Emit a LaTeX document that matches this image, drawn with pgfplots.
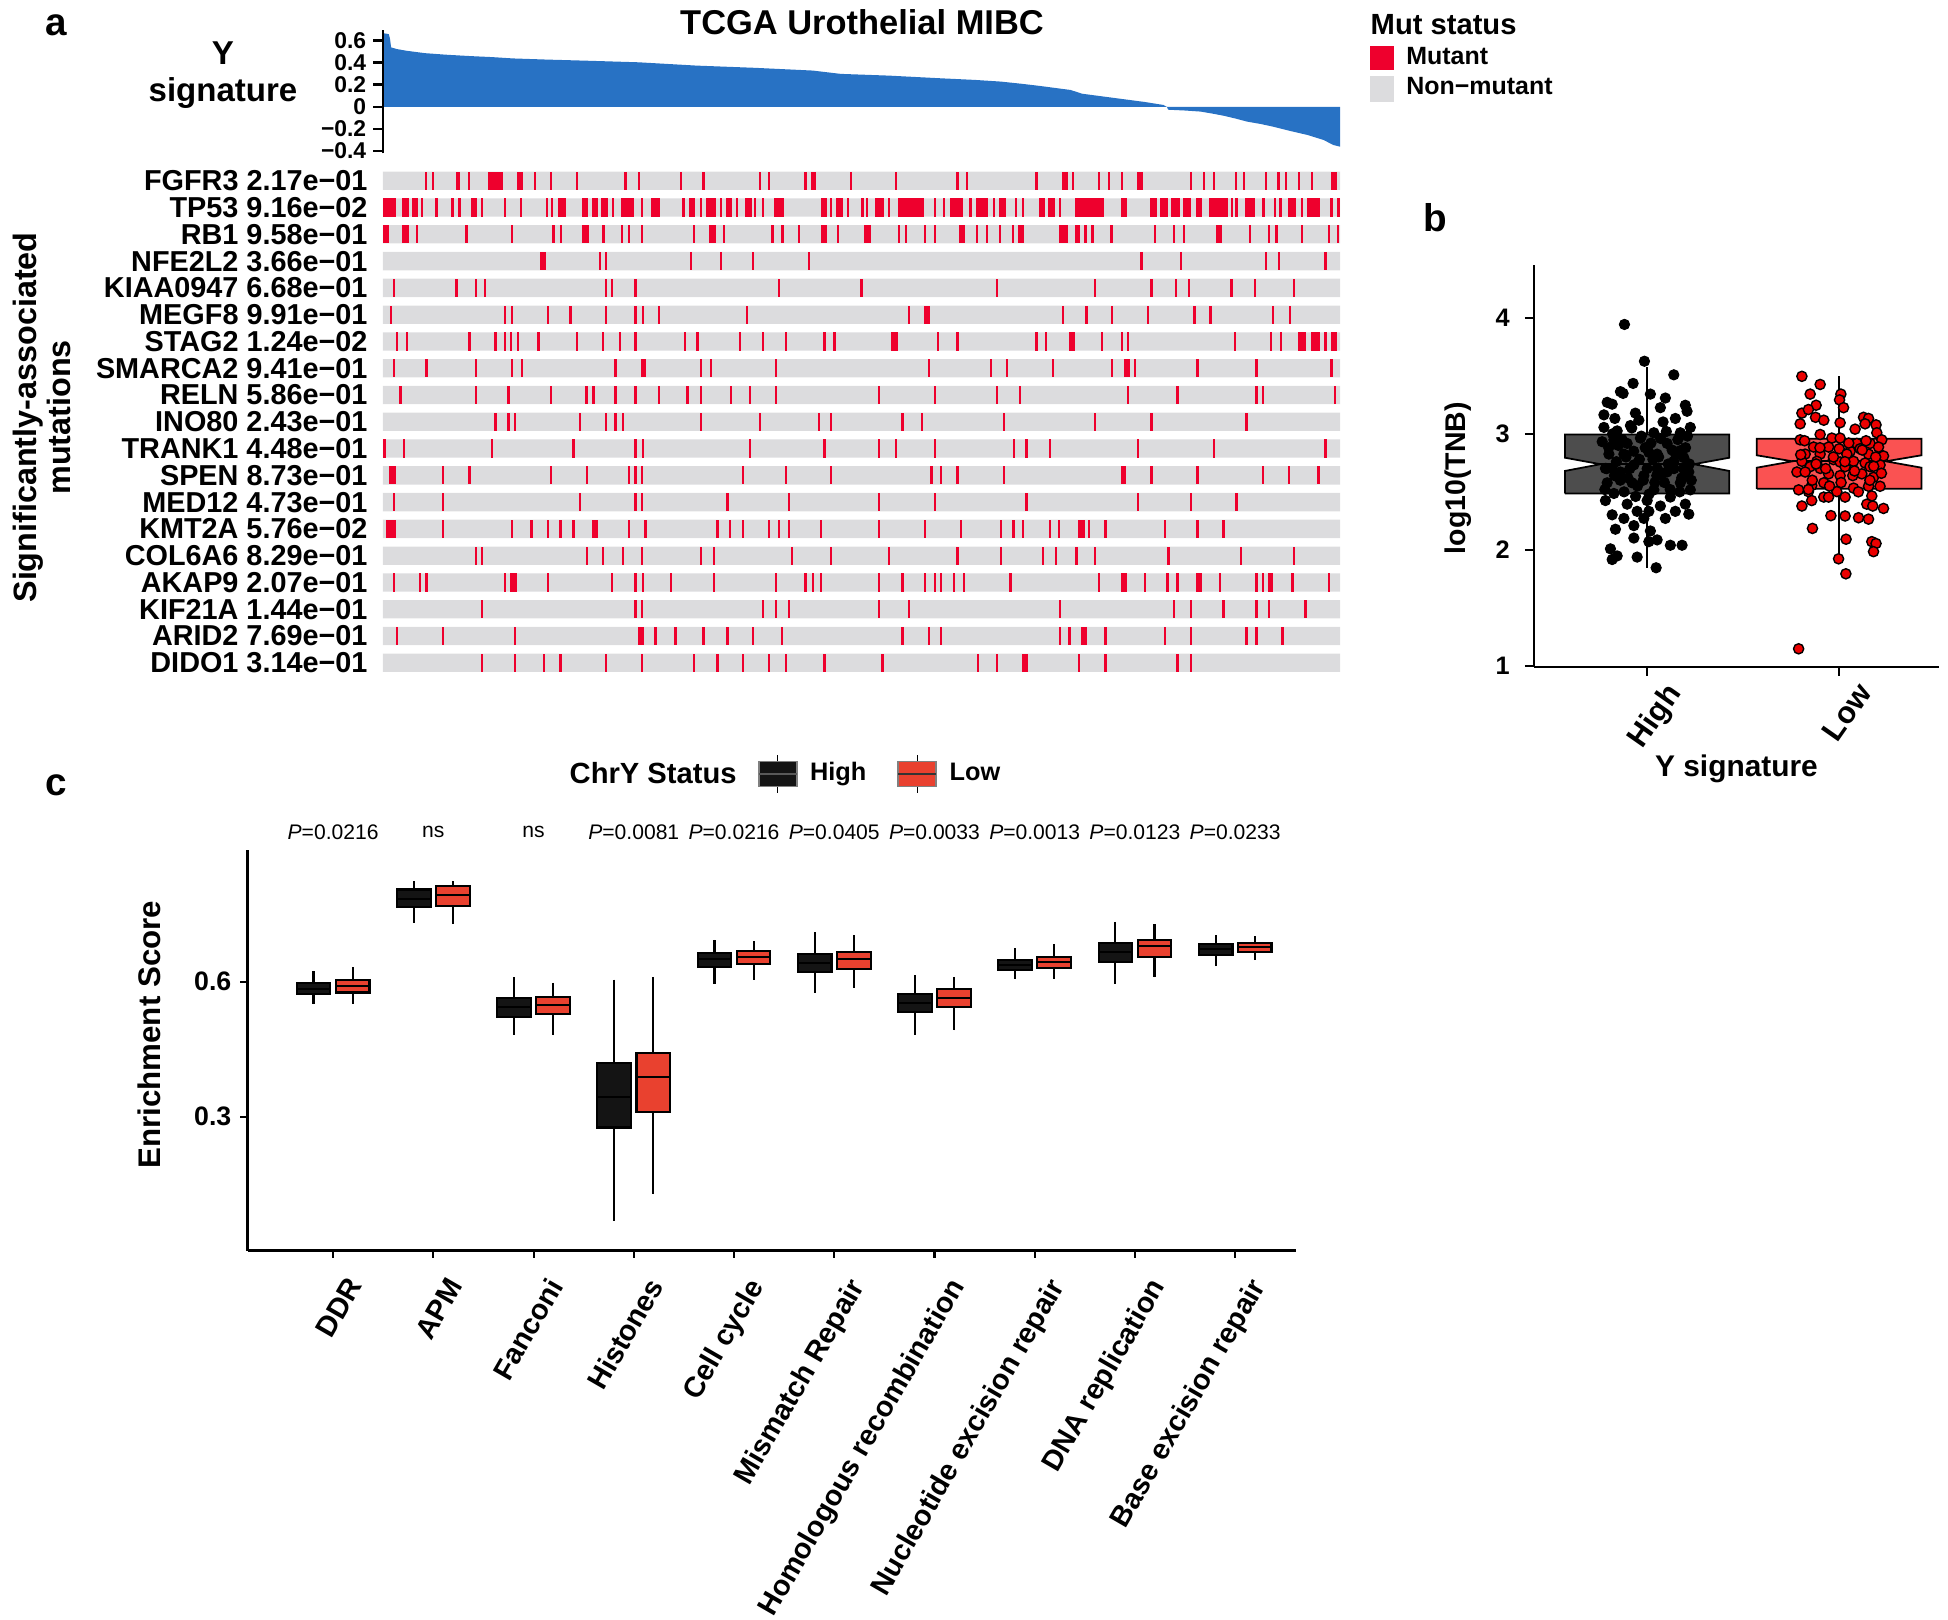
\documentclass[border=0pt]{standalone}
\usepackage{fontspec}
\setmainfont{Liberation Sans}
\usepackage{pgfplots}
\usepackage{pgfplotstable}
\usepgfplotslibrary{statistics}
\pgfplotsset{compat=1.18}

\definecolor{wfblue}{RGB}{40,114,196}
\definecolor{mutred}{RGB}{238,0,45}
\definecolor{rowgrey}{RGB}{220,220,222}
\definecolor{hibox}{RGB}{77,77,77}
\definecolor{lobox}{RGB}{250,82,82}
\definecolor{ptred}{RGB}{235,0,0}
\definecolor{cblack}{RGB}{20,20,20}
\definecolor{cred}{RGB}{233,65,47}

\newcommand{\fs}[1]{\fontsize{#1}{#1}\selectfont}

% mutation calls: centre (sample index), row (1 = FGFR3 ... 19 = DIDO1), half width
\pgfplotstableread{
x y e
18.4 1 0.5
21.6 1 0.5
32.3 1 1.0
37.0 1 0.5
48.4 1 3.4
58.9 1 1.2
65.3 1 0.5
72.3 1 0.5
83.4 1 0.5
104.4 1 0.5
110.1 1 0.5
128.4 1 0.5
138.0 1 0.5
162.3 1 0.5
166.3 1 0.5
181.9 1 0.5
185.3 1 1.2
201.6 1 0.5
220.8 1 0.5
247.3 1 0.5
251.5 1 0.5
281.4 1 0.5
293.6 1 1.4
297.1 1 0.5
308.2 1 0.5
312.5 1 0.5
318.2 1 0.5
326.0 1 1.2
347.8 1 0.5
353.4 1 0.5
357.7 1 0.5
367.2 1 0.5
370.6 1 0.5
380.2 1 0.5
385.5 1 0.5
388.7 1 0.5
394.4 1 0.5
400.0 1 0.5
409.4 1 1.4
2.9 2 2.7
9.7 2 1.4
13.9 2 1.3
16.9 2 0.5
23.0 2 0.5
29.9 2 0.5
33.0 2 0.5
39.1 2 1.2
42.6 2 0.5
52.6 2 0.5
59.4 2 0.5
70.6 2 0.5
72.7 2 0.5
77.1 2 1.6
87.1 2 1.3
91.3 2 1.4
95.4 2 1.4
99.0 2 0.5
105.4 2 2.8
111.6 2 0.5
117.3 2 2.1
129.4 2 0.5
133.0 2 1.4
136.9 2 0.5
141.1 2 2.1
145.4 2 0.5
148.9 2 1.3
152.3 2 0.5
157.3 2 1.4
160.1 2 0.5
163.7 2 0.5
170.6 2 2.1
189.9 2 1.4
193.0 2 0.5
196.6 2 1.4
200.1 2 0.5
206.4 2 0.5
208.4 2 0.5
213.6 2 1.9
217.9 2 0.5
227.2 2 5.5
237.6 2 0.5
241.6 2 0.5
246.8 2 2.7
252.9 2 0.5
257.8 2 2.6
263.0 2 0.5
266.6 2 1.4
272.5 2 0.5
275.6 2 0.5
283.6 2 1.3
287.8 2 1.4
291.4 2 0.5
304.0 2 6.2
318.8 2 1.3
331.6 2 1.4
336.2 2 1.8
341.2 2 1.8
346.2 2 1.8
351.4 2 1.2
359.7 2 4.1
365.6 2 0.5
367.5 2 0.5
373.2 2 2.1
379.0 2 0.5
384.0 2 0.5
386.4 2 0.5
391.3 2 1.9
395.5 2 0.5
400.6 2 2.6
408.3 2 0.5
411.3 2 0.5
1.4 3 1.3
9.7 3 1.4
14.7 3 0.5
35.9 3 0.5
55.6 3 0.5
73.4 3 0.5
76.6 3 0.5
87.1 3 1.4
94.9 3 0.5
103.0 3 0.5
105.9 3 0.5
111.6 3 0.5
134.0 3 0.5
141.9 3 1.4
146.9 3 0.5
167.7 3 0.5
172.0 3 0.5
179.1 3 0.5
189.9 3 1.4
195.9 3 0.5
208.5 3 1.5
222.2 3 0.5
225.1 3 0.5
233.2 3 0.5
237.6 3 0.5
249.4 3 1.3
255.8 3 0.5
260.0 3 0.5
265.7 3 0.5
271.2 3 0.5
274.6 3 1.4
292.9 3 2.0
299.0 3 1.2
302.4 3 0.5
305.4 3 0.5
313.6 3 0.5
332.3 3 0.5
340.6 3 0.5
344.9 3 0.5
359.8 3 1.4
373.2 3 0.5
381.5 3 0.5
384.7 3 0.5
395.7 3 0.5
407.2 3 0.5
411.0 3 0.5
68.9 4 1.3
93.3 4 0.5
96.1 4 0.5
132.6 4 0.5
145.4 4 0.5
159.4 4 0.5
183.3 4 0.5
326.6 4 0.5
343.5 4 0.5
380.0 4 0.5
385.7 4 0.5
405.7 4 0.5
4.7 5 0.5
31.6 5 0.5
39.9 5 0.5
44.0 5 0.5
95.9 5 0.5
98.7 5 0.5
108.7 5 0.5
170.6 5 0.5
206.0 5 0.5
264.3 5 0.5
306.4 5 0.5
330.9 5 0.5
341.4 5 0.5
347.0 5 0.5
365.3 5 0.5
375.3 5 0.5
392.2 5 0.5
3.4 6 0.5
52.6 6 0.5
55.6 6 0.5
70.9 6 0.5
80.7 6 0.5
96.1 6 0.5
108.7 6 0.5
111.9 6 0.5
118.7 6 0.5
156.6 6 0.5
226.5 6 0.5
234.3 6 1.4
292.8 6 0.5
302.9 6 0.5
313.9 6 0.5
329.4 6 0.5
349.3 6 0.5
356.3 6 0.5
383.2 6 0.5
390.4 6 0.5
6.1 7 0.5
10.4 7 0.5
37.3 7 0.5
48.4 7 0.5
52.6 7 0.5
55.1 7 0.5
58.0 7 0.5
66.9 7 0.5
83.4 7 0.5
94.7 7 0.5
101.9 7 0.5
108.7 7 0.5
129.9 7 0.5
135.4 7 0.5
153.7 7 0.5
163.7 7 0.5
173.4 7 0.5
190.1 7 0.5
194.4 7 0.5
220.2 7 1.3
239.0 7 0.5
247.3 7 0.5
281.4 7 0.5
285.4 7 0.5
296.6 7 1.3
309.6 7 0.5
318.0 7 0.5
320.8 7 0.5
366.7 7 0.5
382.2 7 0.5
386.5 7 0.5
395.7 7 1.8
401.4 7 1.8
405.7 7 0.5
409.5 7 1.2
4.7 8 0.5
18.7 8 0.5
39.9 8 0.5
55.4 8 0.5
59.7 8 0.5
100.1 8 0.5
112.3 8 1.1
136.9 8 0.5
141.1 8 0.5
169.1 8 0.5
235.0 8 0.5
261.7 8 0.5
268.7 8 0.5
288.5 8 0.5
313.9 8 0.5
320.2 8 1.2
323.7 8 0.5
350.6 8 0.5
376.0 8 0.5
408.3 8 0.5
7.6 9 0.5
39.9 9 0.5
54.0 9 0.5
72.3 9 0.5
87.6 9 0.5
90.6 9 0.5
100.1 9 0.5
108.7 9 0.5
118.7 9 0.5
131.1 9 0.5
136.9 9 0.5
149.7 9 0.5
158.0 9 0.5
169.1 9 0.5
213.5 9 0.5
237.6 9 0.5
264.3 9 0.5
274.2 9 0.5
320.8 9 0.5
342.1 9 0.5
376.0 9 0.5
378.9 9 0.5
409.8 9 0.5
48.4 10 0.5
54.0 10 0.5
56.9 10 0.5
84.9 10 0.5
96.1 10 0.5
100.1 10 0.5
103.3 10 0.5
136.9 10 0.5
162.3 10 0.5
187.6 10 0.5
193.0 10 0.5
223.7 10 0.5
232.1 10 0.5
267.3 10 0.5
306.4 10 0.5
330.9 10 0.5
371.7 10 0.5
0.6 11 0.5
9.0 11 0.5
47.0 11 0.5
82.0 11 0.5
108.7 11 0.5
111.9 11 0.5
158.0 11 0.5
190.1 11 0.5
213.5 11 0.5
220.8 11 0.5
237.6 11 0.5
271.6 11 0.5
277.1 11 0.5
287.1 11 0.5
325.1 11 0.5
357.7 11 0.5
405.7 11 0.5
4.0 12 1.4
25.9 12 0.5
37.3 12 0.5
72.3 12 0.5
87.7 12 0.5
105.9 12 0.5
108.7 12 0.5
111.6 12 0.5
155.1 12 0.5
173.4 12 0.5
193.0 12 0.5
236.1 12 0.5
240.3 12 0.5
247.3 12 0.5
267.3 12 0.5
318.8 12 1.2
330.9 12 0.5
350.6 12 0.5
378.9 12 0.5
390.1 12 0.5
402.7 12 0.5
4.7 13 0.5
25.9 13 0.5
84.9 13 0.5
108.7 13 0.5
111.6 13 0.5
148.3 13 0.5
174.7 13 0.5
213.5 13 0.5
237.6 13 0.5
277.1 13 0.5
325.1 13 0.5
347.8 13 0.5
367.5 13 0.5
3.3 14 2.1
25.9 14 0.5
55.4 14 0.5
63.9 14 0.5
70.9 14 0.5
76.4 14 0.5
82.0 14 0.5
91.3 14 1.4
105.9 14 0.5
113.0 14 0.5
144.0 14 0.5
149.4 14 0.5
155.1 14 0.5
166.3 14 0.5
170.6 14 0.5
174.7 14 0.5
188.7 14 0.5
213.5 14 0.5
233.3 14 0.5
248.8 14 0.5
266.0 14 0.5
271.5 14 0.5
275.6 14 0.5
287.1 14 0.5
291.1 14 0.5
300.7 14 1.4
304.0 14 0.5
311.1 14 0.5
336.6 14 0.5
350.6 14 0.5
361.8 14 0.5
39.9 15 0.5
42.7 15 0.5
87.7 15 0.5
94.7 15 0.5
103.3 15 0.5
111.6 15 0.5
136.9 15 0.5
142.6 15 0.5
176.1 15 0.5
193.0 15 0.5
217.9 15 0.5
247.3 15 0.5
266.0 15 0.5
284.2 15 0.5
289.7 15 0.5
298.6 15 0.5
306.4 15 0.5
338.2 15 0.5
369.4 15 0.5
392.2 15 0.5
4.7 16 0.5
15.9 16 0.5
18.7 16 0.5
52.6 16 0.5
56.1 16 1.4
70.9 16 0.5
98.7 16 0.5
108.7 16 0.5
111.9 16 0.5
124.1 16 0.5
142.6 16 0.5
169.1 16 0.5
181.9 16 0.5
185.1 16 0.5
188.7 16 0.5
213.5 16 0.5
223.7 16 0.5
233.3 16 0.5
237.6 16 0.5
240.3 16 0.5
245.9 16 0.5
250.2 16 0.5
270.2 16 0.5
308.3 16 0.5
318.8 16 1.3
328.0 16 0.5
337.8 16 0.5
342.1 16 0.5
351.4 16 1.2
360.4 16 0.5
376.0 16 0.5
378.9 16 0.5
382.1 16 1.2
391.6 16 0.5
407.3 16 0.5
42.7 17 0.5
108.7 17 0.5
111.6 17 0.5
163.7 17 0.5
169.1 17 0.5
174.7 17 0.5
213.5 17 0.5
226.5 17 0.5
291.4 17 0.5
340.6 17 0.5
347.8 17 0.5
361.8 17 0.5
376.0 17 0.5
381.5 17 0.5
397.2 17 0.5
6.1 18 0.5
25.9 18 0.5
56.9 18 0.5
111.0 18 1.2
117.3 18 0.5
125.9 18 0.5
138.0 18 0.5
148.3 18 0.5
159.4 18 0.5
171.9 18 0.5
223.7 18 0.5
235.0 18 0.5
240.3 18 0.5
291.4 18 0.5
295.6 18 0.5
301.9 18 1.3
311.1 18 0.5
336.6 18 0.5
347.8 18 0.5
371.7 18 0.5
376.0 18 0.5
387.2 18 0.5
42.7 19 0.5
56.9 19 0.5
69.4 19 0.5
76.4 19 0.5
96.1 19 0.5
111.6 19 0.5
134.0 19 0.5
144.0 19 0.5
155.1 19 0.5
166.3 19 0.5
173.4 19 0.5
190.1 19 0.5
215.0 19 0.5
256.2 19 0.5
264.3 19 0.5
276.5 19 1.2
299.7 19 0.5
311.1 19 0.5
342.1 19 0.5
347.8 19 0.5
}\mutations

\begin{document}
\begin{tikzpicture}
\useasboundingbox (0,0) rectangle (19.48,16.2);

% ---------- panel a: Y signature waterfall ----------
\begin{axis}[
  at={(3.83cm,14.667cm)}, anchor=south west,
  width=9.57cm, height=1.235cm, scale only axis,
  xmin=0, xmax=412, ymin=-0.42, ymax=0.70,
  axis x line=none, axis y line=left, axis on top,
  axis line style={-, line width=0.8pt},
  tick align=outside, major tick length=2.8pt,
  tick style={line width=0.8pt, black},
  ytick={-0.4,-0.2,0,0.2,0.4,0.6},
  yticklabels={−0.4,−0.2,0,0.2,0.4,0.6},
  yticklabel style={font=\bfseries\fs{6.5}, inner sep=0pt, xshift=-1.8pt},
  clip=false,
  legend style={at={(axis description cs:1.0303,0.877)}, anchor=north west,
    draw=none, fill=none, inner sep=0pt, font=\bfseries\fs{7.1},
    nodes={inner sep=0.3pt}, row sep=1.6pt, legend cell align=left,
    /tikz/every odd column/.append style={column sep=3.1pt}},
]
\addplot[fill=wfblue, draw=none, forget plot] table {
x y
0 0
0 0.67
2.5 0.66
3.0 0.62
3.5 0.54
6 0.525
10 0.51
18 0.488
27 0.474
37 0.462
47 0.452
56 0.44
70 0.43
90 0.418
110 0.405
135 0.375
160 0.355
185 0.33
197 0.30
218 0.284
240 0.26
255 0.245
266 0.23
275 0.21
283 0.19
296 0.154
301 0.12
310 0.095
319 0.07
328 0.045
336 0.018
337.5 0
338 -0.025
345 -0.032
352 -0.042
357 -0.06
362 -0.08
367 -0.105
372 -0.133
378 -0.155
383 -0.178
390 -0.215
398 -0.254
405 -0.30
409 -0.344
412 -0.36
412 0
};
\addlegendimage{legend image code/.code={\fill[mutred] (0cm,-0.117cm) rectangle (0.233cm,0.117cm);}}
\addlegendentry{Mutant}
\addlegendimage{legend image code/.code={\fill[rowgrey] (0cm,-0.122cm) rectangle (0.233cm,0.122cm);}}
\addlegendentry{Non−mutant}
\end{axis}

% ---------- panel a: mutation matrix ----------
\begin{axis}[
  at={(3.83cm,9.438cm)}, anchor=south west,
  width=9.57cm, height=5.088cm, scale only axis,
  xmin=0, xmax=412, ymin=0.5, ymax=19.5, y dir=reverse,
  axis line style={draw=none}, xtick=\empty,
  ytick={1,...,19}, major tick length=0pt,
  yticklabels={FGFR3 2.17e−01, TP53 9.16e−02, RB1 9.58e−01, NFE2L2 3.66e−01,
    KIAA0947 6.68e−01, MEGF8 9.91e−01, STAG2 1.24e−02, SMARCA2 9.41e−01,
    RELN 5.86e−01, INO80 2.43e−01, TRANK1 4.48e−01, SPEN 8.73e−01,
    MED12 4.73e−01, KMT2A 5.76e−02, COL6A6 8.29e−01, AKAP9 2.07e−01,
    KIF21A 1.44e−01, ARID2 7.69e−01, DIDO1 3.14e−01},
  yticklabel style={font=\bfseries\fs{8.2}, inner sep=0pt, anchor=east, xshift=-4.2pt},
  clip=false,
]
\addplot[xbar, bar width=0.684, fill=rowgrey, draw=none] coordinates {
(412,1) (412,2) (412,3) (412,4) (412,5) (412,6) (412,7) (412,8) (412,9) (412,10)
(412,11) (412,12) (412,13) (412,14) (412,15) (412,16) (412,17) (412,18) (412,19)};
\addplot[draw=none, mark=none,
  error bars/.cd, x dir=both, x explicit, error mark=none,
  error bar style={draw=mutred, line width=5.2pt}]
  table[x=x, y=y, x error=e] {\mutations};
\end{axis}

% ---------- panel b ----------
\begin{axis}[
  at={(15.34cm,9.533cm)}, anchor=south west,
  width=4.05cm, height=4.012cm, scale only axis,
  xmin=0.411, xmax=2.52, ymin=0.994, ymax=4.45,
  axis x line*=bottom, axis y line*=left,
  axis line style={-, line width=0.6pt},
  tick align=outside, major tick length=2.6pt,
  tick style={line width=0.6pt, black},
  xtick={1,2}, xticklabels={High,Low},
  xticklabel style={rotate=55, anchor=north east, font=\bfseries\fs{8.7}, inner sep=0pt, xshift=1.7pt, yshift=-4.5pt},
  ytick={1,2,3,4}, yticklabels={1,2,3,4},
  yticklabel style={font=\bfseries\fs{7.2}, inner sep=0pt, xshift=-4.1pt},
  xlabel={Y signature}, ylabel={log10(TNB)},
  xlabel style={font=\bfseries\fs{8.5}, at={(axis description cs:0.5,-0.254)}, anchor=center},
  ylabel style={font=\bfseries\fs{8.1}, at={(axis description cs:-0.188,0.47)}, anchor=center},
  clip=false,
]
% High: whiskers, notched box, median
\addplot[black, line width=0.6pt] coordinates {(1,2.994) (1,3.578)};
\addplot[black, line width=0.6pt] coordinates {(1,2.486) (1,1.846)};
\addplot[fill=hibox, draw=black, line width=0.5pt] coordinates {
(0.572,2.486) (0.572,2.680) (0.757,2.738) (0.572,2.794) (0.572,2.994)
(1.428,2.994) (1.428,2.794) (1.243,2.738) (1.428,2.680) (1.428,2.486) (0.572,2.486)};
\addplot[black, line width=0.6pt] coordinates {(0.757,2.738) (1.243,2.738)};
% Low
\addplot[black, line width=0.6pt] coordinates {(2,2.957) (2,3.495)};
\addplot[black, line width=0.6pt] coordinates {(2,2.526) (2,1.95)};
\addplot[fill=lobox, draw=black, line width=0.5pt] coordinates {
(1.571,2.526) (1.571,2.708) (1.757,2.763) (1.571,2.815) (1.571,2.957)
(2.429,2.957) (2.429,2.815) (2.243,2.763) (2.429,2.708) (2.429,2.526) (1.571,2.526)};
\addplot[black, line width=0.6pt] coordinates {(1.757,2.763) (2.243,2.763)};
% jittered samples
\addplot[only marks, mark=*, mark size=1.45pt, mark options={fill=black, draw=black, line width=0.3pt}] table {
x y
0.882 3.942
0.986 3.625
1.139 3.508
0.927 3.434
0.861 3.363
0.875 3.348
1.017 3.342
1.095 3.308
0.792 3.271
0.818 3.255
1.199 3.246
0.775 3.163
0.832 3.132
0.939 3.178
1.069 3.225
1.208 3.194
1.147 3.132
1.083 3.102
0.775 3.055
1.225 3.055
0.844 3.025
0.913 3.071
0.957 3.117
1.035 3.009
1.173 3.009
0.766 2.932
0.801 2.825
0.783 2.702
0.792 2.578
0.879 2.825
1.009 2.840
1.104 2.917
1.191 2.794
1.217 2.671
1.173 2.578
0.783 2.425
0.827 2.486
1.225 2.517
1.199 2.394
1.217 2.308
0.818 2.302
0.835 2.178
0.931 2.209
0.931 2.102
1.017 2.163
1.009 2.071
1.052 2.086
1.121 2.040
1.182 2.040
0.809 2.009
0.844 1.948
0.818 1.917
0.948 1.938
1.047 1.846
1.069 2.378
0.948 2.332
1.000 2.425
1.121 2.455
0.896 2.394
1.035 2.517
0.922 2.578
0.983 2.640
1.104 2.671
0.861 2.671
0.896 2.917
0.965 2.963
1.052 2.825
1.139 2.763
0.931 2.732
1.052 2.702
1.173 2.855
0.827 2.948
0.818 2.702
1.147 2.332
1.095 2.271
0.983 2.271
0.879 2.271
1.009 2.332
0.80 2.88
0.84 2.76
0.87 2.95
0.90 2.62
0.93 2.85
0.95 2.55
0.97 2.98
1.00 2.70
1.02 2.92
1.04 2.58
1.06 2.80
1.08 2.66
1.10 3.02
1.12 2.52
1.14 2.70
1.16 2.95
1.18 2.62
1.20 2.88
1.22 2.74
0.78 2.52
0.82 3.00
0.86 2.60
0.89 2.80
0.92 3.05
0.94 2.46
0.98 2.60
1.01 2.48
1.03 2.78
1.07 2.96
1.09 2.58
1.13 2.86
1.17 2.50
1.19 2.70
1.21 2.98
0.79 2.70
0.85 2.90
0.91 2.70
0.96 2.78
1.05 2.64
1.15 2.82
0.88 2.50
1.11 2.74
0.99 2.88
0.83 2.64
1.23 2.60
};
\addplot[only marks, mark=*, mark size=1.45pt, mark options={fill=ptred, draw=black, line width=0.4pt}] table {
x y
1.806 3.495
1.901 3.425
1.849 3.342
2.009 3.342
2.002 3.292
1.880 3.246
2.023 3.225
1.806 3.178
1.840 3.209
1.877 3.142
1.920 3.117
1.797 3.086
2.005 3.095
2.127 3.142
2.153 3.132
2.135 3.086
2.192 3.077
2.083 3.040
1.901 2.994
2.196 3.009
1.797 2.948
1.962 2.963
2.005 2.963
2.092 2.917
2.161 2.917
2.222 2.948
1.867 2.886
1.945 2.886
2.000 2.871
2.057 2.849
2.109 2.871
2.205 2.886
1.823 2.825
1.901 2.825
2.040 2.825
2.153 2.825
2.231 2.809
1.806 2.763
1.884 2.763
1.970 2.778
2.005 2.757
2.075 2.763
2.135 2.748
1.849 2.717
1.901 2.702
2.031 2.717
2.161 2.717
2.213 2.732
1.780 2.671
1.823 2.671
1.945 2.655
2.005 2.640
2.071 2.640
2.118 2.655
2.179 2.625
1.857 2.554
1.920 2.578
2.075 2.532
2.153 2.548
2.213 2.548
1.789 2.517
1.840 2.502
1.988 2.502
2.170 2.465
1.920 2.455
1.945 2.455
2.031 2.455
1.857 2.425
1.806 2.378
2.144 2.394
2.175 2.378
2.231 2.357
1.957 2.295
2.031 2.292
2.101 2.277
2.153 2.265
1.861 2.185
2.036 2.092
2.170 2.071
2.192 2.055
2.179 1.985
1.997 1.923
2.035 1.794
1.789 1.148
1.82 2.94
1.86 2.60
1.90 2.88
1.93 2.70
1.97 2.80
2.01 2.58
2.05 2.92
2.08 2.68
2.12 2.86
2.16 2.60
2.19 2.80
2.22 2.66
1.80 2.82
1.88 2.74
1.95 2.55
2.03 2.76
2.10 2.50
2.14 2.94
2.18 2.72
1.84 2.52
};
\end{axis}

% ---------- panel c ----------
\begin{axis}[
  at={(2.475cm,3.693cm)}, anchor=south west,
  width=10.488cm, height=4.007cm, scale only axis,
  xmin=0.146, xmax=10.61, ymin=0.002, ymax=0.893,
  axis x line*=bottom, axis y line*=left,
  axis line style={-, line width=0.7pt},
  tick align=outside, major tick length=2pt,
  tick style={line width=0.6pt, black},
  xtick={1,...,10},
  xticklabels={DDR, APM, Fanconi, Histones, Cell cycle, Mismatch Repair,
    Homologous recombination, Nucleotide excision repair, DNA replication, Base excision repair},
  xticklabel style={rotate=60, anchor=north east, font=\bfseries\fs{8.2}, inner sep=0pt, xshift=-2.5pt, yshift=-5.5pt},
  ytick={0.3,0.6}, yticklabels={0.3,0.6},
  yticklabel style={font=\bfseries\fs{7.6}, inner sep=0pt, xshift=-2.4pt},
  ylabel={Enrichment Score},
  ylabel style={font=\bfseries\fs{8.9}, at={(axis description cs:-0.094,0.539)}, anchor=center},
  clip=false,
  boxplot/draw direction=y,
  boxplot/box extend=0.336, boxplot/whisker extend=0,
  legend style={at={(axis description cs:0.4858,1.1897)}, anchor=west,
    draw=none, fill=none, inner sep=0pt, font=\bfseries\fs{7.2},
    nodes={inner sep=0.3pt}, legend columns=-1,
    /tikz/every odd column/.append style={column sep=3.2pt},
    /tikz/every even column/.append style={column sep=8.5pt}},
  hi/.style={forget plot, draw=black, fill=cblack, line width=0.6pt},
  lo/.style={forget plot, draw=black, fill=cred, line width=0.6pt},
]
\addplot[hi, boxplot prepared={draw position=0.805, lower whisker=0.550, lower quartile=0.572, median=0.584, upper quartile=0.597, upper whisker=0.624}] coordinates {};
\addplot[lo, boxplot prepared={draw position=1.195, lower whisker=0.550, lower quartile=0.576, median=0.590, upper quartile=0.603, upper whisker=0.633}] coordinates {};
\addplot[hi, boxplot prepared={draw position=1.805, lower whisker=0.731, lower quartile=0.767, median=0.784, upper quartile=0.805, upper whisker=0.824}] coordinates {};
\addplot[lo, boxplot prepared={draw position=2.195, lower whisker=0.728, lower quartile=0.769, median=0.793, upper quartile=0.813, upper whisker=0.825}] coordinates {};
\addplot[hi, boxplot prepared={draw position=2.805, lower whisker=0.482, lower quartile=0.522, median=0.544, upper quartile=0.564, upper whisker=0.610}] coordinates {};
\addplot[lo, boxplot prepared={draw position=3.195, lower whisker=0.481, lower quartile=0.529, median=0.549, upper quartile=0.566, upper whisker=0.598}] coordinates {};
\addplot[hi, boxplot prepared={draw position=3.805, lower whisker=0.069, lower quartile=0.276, median=0.344, upper quartile=0.419, upper whisker=0.605}] coordinates {};
\addplot[lo, boxplot prepared={draw position=4.195, lower whisker=0.127, lower quartile=0.310, median=0.389, upper quartile=0.442, upper whisker=0.611}] coordinates {};
\addplot[hi, boxplot prepared={draw position=4.805, lower whisker=0.595, lower quartile=0.633, median=0.650, upper quartile=0.664, upper whisker=0.693}] coordinates {};
\addplot[lo, boxplot prepared={draw position=5.195, lower whisker=0.605, lower quartile=0.639, median=0.656, upper quartile=0.669, upper whisker=0.690}] coordinates {};
\addplot[hi, boxplot prepared={draw position=5.805, lower whisker=0.576, lower quartile=0.621, median=0.641, upper quartile=0.662, upper whisker=0.710}] coordinates {};
\addplot[lo, boxplot prepared={draw position=6.195, lower whisker=0.587, lower quartile=0.629, median=0.650, upper quartile=0.667, upper whisker=0.704}] coordinates {};
\addplot[hi, boxplot prepared={draw position=6.805, lower whisker=0.482, lower quartile=0.533, median=0.553, upper quartile=0.572, upper whisker=0.614}] coordinates {};
\addplot[lo, boxplot prepared={draw position=7.195, lower whisker=0.492, lower quartile=0.544, median=0.564, upper quartile=0.584, upper whisker=0.611}] coordinates {};
\addplot[hi, boxplot prepared={draw position=7.805, lower whisker=0.606, lower quartile=0.626, median=0.638, upper quartile=0.649, upper whisker=0.674}] coordinates {};
\addplot[lo, boxplot prepared={draw position=8.195, lower whisker=0.607, lower quartile=0.630, median=0.643, upper quartile=0.655, upper whisker=0.684}] coordinates {};
\addplot[hi, boxplot prepared={draw position=8.805, lower whisker=0.596, lower quartile=0.644, median=0.667, upper quartile=0.687, upper whisker=0.733}] coordinates {};
\addplot[lo, boxplot prepared={draw position=9.195, lower whisker=0.610, lower quartile=0.655, median=0.679, upper quartile=0.692, upper whisker=0.728}] coordinates {};
\addplot[hi, boxplot prepared={draw position=9.805, lower whisker=0.635, lower quartile=0.660, median=0.672, upper quartile=0.683, upper whisker=0.703}] coordinates {};
\addplot[lo, boxplot prepared={draw position=10.195, lower whisker=0.648, lower quartile=0.667, median=0.677, upper quartile=0.687, upper whisker=0.701}] coordinates {};

\addlegendimage{legend image code/.code={
  \draw[black, line width=0.4pt] (0.19cm,0.125cm) -- (0.19cm,0.19cm);
  \draw[black, line width=0.4pt] (0.19cm,-0.125cm) -- (0.19cm,-0.19cm);
  \draw[draw=gray, fill=cblack, line width=0.5pt] (0cm,-0.125cm) rectangle (0.38cm,0.125cm);
  \draw[gray!70!black, line width=0.6pt] (0cm,0cm) -- (0.38cm,0cm);}}
\addlegendentry{High}
\addlegendimage{legend image code/.code={
  \draw[black, line width=0.4pt] (0.19cm,0.125cm) -- (0.19cm,0.19cm);
  \draw[black, line width=0.4pt] (0.19cm,-0.125cm) -- (0.19cm,-0.19cm);
  \draw[draw=gray, fill=cred, line width=0.5pt] (0cm,-0.125cm) rectangle (0.38cm,0.125cm);
  \draw[black!80, line width=0.6pt] (0cm,0cm) -- (0.38cm,0cm);}}
\addlegendentry{Low}

% significance above each pathway
\node[font=\fs{6}, inner sep=0pt] at (axis cs:1,0.933) {\textit{P}=0.0216};
\node[font=\fs{6}, inner sep=0pt] at (axis cs:2,0.933) {ns};
\node[font=\fs{6}, inner sep=0pt] at (axis cs:3,0.933) {ns};
\node[font=\fs{6}, inner sep=0pt] at (axis cs:4,0.933) {\textit{P}=0.0081};
\node[font=\fs{6}, inner sep=0pt] at (axis cs:5,0.933) {\textit{P}=0.0216};
\node[font=\fs{6}, inner sep=0pt] at (axis cs:6,0.933) {\textit{P}=0.0405};
\node[font=\fs{6}, inner sep=0pt] at (axis cs:7,0.933) {\textit{P}=0.0033};
\node[font=\fs{6}, inner sep=0pt] at (axis cs:8,0.933) {\textit{P}=0.0013};
\node[font=\fs{6}, inner sep=0pt] at (axis cs:9,0.933) {\textit{P}=0.0123};
\node[font=\fs{6}, inner sep=0pt] at (axis cs:10,0.933) {\textit{P}=0.0233};
\end{axis}

% ---------- free text ----------
\node[font=\bfseries\fs{11}] at (0.558,15.95) {a};
\node[font=\bfseries\fs{11}] at (14.35,14.02) {b};
\node[font=\bfseries\fs{11}] at (0.56,8.35) {c};
\node[font=\bfseries\fs{9.8}] at (8.62,15.976) {TCGA Urothelial MIBC};
\node[font=\bfseries\fs{9.4}] at (2.23,15.667) {Y};
\node[font=\bfseries\fs{9.4}] at (2.23,15.267) {signature};
\node[font=\bfseries\fs{9.2}, rotate=90, align=center] at (0.415,12.025)
  {Significantly-associated\\[0.5pt]mutations};
\node[font=\bfseries\fs{8.3}, anchor=west, inner sep=0pt] at (13.70,15.95) {Mut status};
\node[font=\bfseries\fs{8.3}, anchor=west, inner sep=0pt] at (5.69,8.47) {ChrY Status};
\end{tikzpicture}
\end{document}
